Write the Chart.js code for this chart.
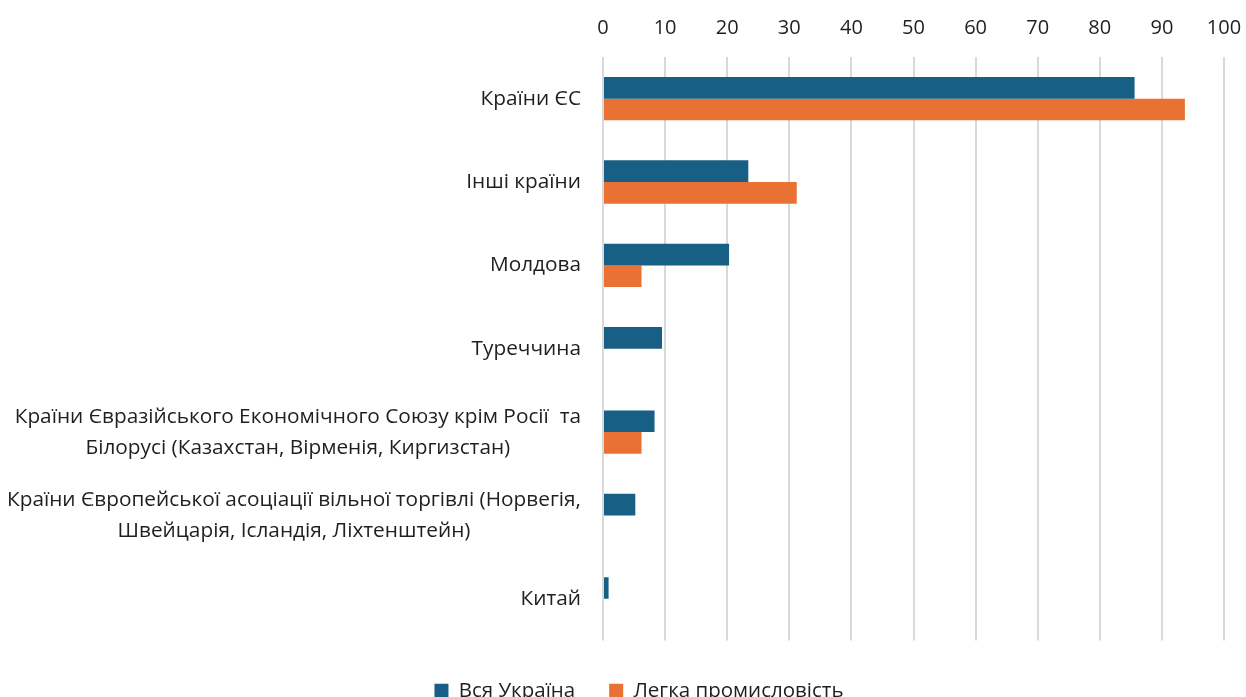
<!DOCTYPE html>
<html>
<head>
<meta charset="utf-8">
<script src="https://cdn.jsdelivr.net/npm/chart.js@4/dist/chart.umd.min.js"></script>
<style>
html,body{margin:0;padding:0;background:#fff;}
#wrap{width:1246px;height:697px;position:relative;}
</style>
</head>
<body>
<div id="wrap"><canvas id="c" width="1246" height="697"></canvas></div>
<script>
const categories = [
  ["Країни ЄС"],
  ["Інші країни"],
  ["Молдова"],
  ["Туреччина"],
  ["Країни Євразійського Економічного Союзу крім Росії  та", "Білорусі (Казахстан, Вірменія, Киргизстан)"],
  ["Країни Європейської асоціації вільної торгівлі (Норвегія,", "Швейцарія, Ісландія, Ліхтенштейн)"],
  ["Китай"]
];
const seriesNames = ["Вся Україна", "Легка промисловість"];
const allUkraine = [85.6, 23.4, 20.3, 9.5, 8.3, 5.2, 0.9];
const lightIndustry = [93.7, 31.2, 6.2, 0, 6.2, 0, 0];
const xTicks = [0, 10, 20, 30, 40, 50, 60, 70, 80, 90, 100];

const FONT = "'Open Sans', sans-serif";
const TEXT = "#1f1f1f";

const labelPlugin = {
  id: 'centeredLabels',
  afterDraw(chart) {
    const ctx = chart.ctx;
    const y = chart.scales.y;
    const right = chart.chartArea.left - 22;
    const lh = 31;
    ctx.save();
    ctx.font = "20.8px " + FONT;
    ctx.fillStyle = TEXT;
    ctx.textBaseline = 'middle';
    ctx.textAlign = 'center';
    categories.forEach((lines, i) => {
      const cy = y.getPixelForValue(i);
      const w = Math.max(...lines.map(l => ctx.measureText(l).width));
      const cx = right - w / 2;
      const y0 = cy - (lines.length - 1) * lh / 2;
      lines.forEach((l, k) => ctx.fillText(l, cx, y0 + k * lh));
    });
    ctx.restore();
  }
};

new Chart(document.getElementById('c'), {
  type: 'bar',
  data: {
    labels: categories,
    datasets: [
      { label: seriesNames[0], data: allUkraine, backgroundColor: '#175f84', borderWidth: 0, xAxisID: 'x' },
      { label: seriesNames[1], data: lightIndustry, backgroundColor: '#e97133', borderWidth: 0, xAxisID: 'x' }
    ]
  },
  options: {
    indexAxis: 'y',
    responsive: false,
    animation: false,
    devicePixelRatio: 1,
    layout: { padding: { top: 0, right: 22, bottom: -14, left: 54 } },
    datasets: { bar: { barPercentage: 1.0, categoryPercentage: 0.52 } },
    scales: {
      x: {
        position: 'top',
        min: 0, max: 100,
        afterBuildTicks(s) { s.ticks = xTicks.map(v => ({ value: v })); },
        afterFit(s) { s.height = 57; s.paddingLeft = 0; s.paddingRight = 0; },
        grid: { color: '#d9d9d9', lineWidth: 2, drawTicks: false },
        border: { display: false },
        ticks: { color: TEXT, font: { family: FONT, size: 20 }, padding: 17 }
      },
      spacer: {
        axis: 'x',
        position: 'bottom',
        display: true,
        afterFit(s) { s.height = 6; s.paddingLeft = 0; s.paddingRight = 0; },
        grid: { display: false },
        border: { display: false },
        ticks: { display: false }
      },
      y: {
        afterFit(s) { s.width = 549; },
        grid: { display: false },
        border: { display: false },
        ticks: { display: false }
      }
    },
    plugins: {
      legend: {
        position: 'bottom',
        labels: {
          color: TEXT,
          font: { family: FONT, size: 20.5 },
          boxWidth: 14, boxHeight: 14,
          padding: 34
        }
      },
      tooltip: { enabled: false }
    }
  },
  plugins: [labelPlugin]
});
</script>
</body>
</html>
